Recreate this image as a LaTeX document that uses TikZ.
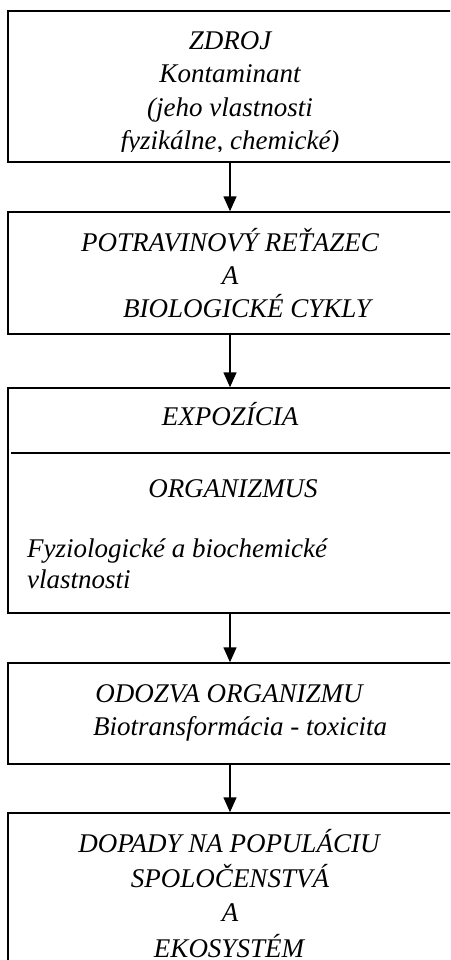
\documentclass[tikz,border=0pt]{standalone}
\usepackage{fontspec}
\setmainfont{Liberation Serif}
\usetikzlibrary{arrows.meta}

\begin{document}
\begin{tikzpicture}[x=1pt,y=-1pt]
        \tikzset{
            krabica/.style={
                draw,
                line width=1.4pt,
                minimum width=444pt,
                minimum height=#1,
                inner sep=0pt
            },
            txt/.style={
                anchor=base,
                inner sep=0pt,
                font=\fontsize{27}{32}\selectfont\itshape
            },
            sipka/.style={
                line width=1.4pt,
                -{Triangle[width=13pt,length=15pt]}
            }
        }
        \clip (0,0) rectangle (450,960);

        %krabice
        \node[krabica=151pt] (zdroj) at (230,86.5) {};
        \node[krabica=122pt] (retazec) at (230,273) {};
        \node[krabica=225pt] (expozicia) at (230,500.5) {};
        \node[krabica=101pt] (odozva) at (230,713.5) {};
        \node[krabica=182pt] (dopady) at (230,904) {};

        %deliaca ciara
        \draw[line width=1.4pt] (11,453) -- (452,453);

        %texty
        \begin{scope}
            \clip (8,11) rectangle (452,152);
            \node[txt] (t1) at (230,50) {ZDROJ};
            \node[txt] (t2) at (230,83) {Kontaminant};
            \node[txt] (t3) at (230,117) {(jeho vlastnosti};
            \node[txt] (t4) at (230,150) {fyzikálne, chemické)};
        \end{scope}

        \node[txt] (t5) at (230,251) {POTRAVINOVÝ REŤAZEC};
        \node[txt] (t6) at (230,284) {A};
        \node[txt] (t7) at (247,317) {BIOLOGICKÉ CYKLY};

        \node[txt] (t8) at (230,425) {EXPOZÍCIA};
        \node[txt] (t9) at (233,497) {ORGANIZMUS};
        \node[txt, anchor=base west] (t10) at (27,557) {Fyziologické a biochemické};
        \node[txt, anchor=base west] (t11) at (27,588) {vlastnosti};

        \node[txt] (t12) at (229,702) {ODOZVA ORGANIZMU};
        \node[txt] (t13) at (240,735) {Biotransformácia - toxicita};

        \node[txt] (t14) at (229,852) {DOPADY NA POPULÁCIU};
        \node[txt] (t15) at (230,887) {SPOLOČENSTVÁ};
        \node[txt] (t16) at (230,921) {A};
        \node[txt] (t17) at (229,957) {EKOSYSTÉM};

        %sipky
        \draw[sipka] (zdroj) -- (retazec);
        \draw[sipka] (retazec) -- (expozicia);
        \draw[sipka] (expozicia) -- (odozva);
        \draw[sipka] (odozva) -- (dopady);

    \end{tikzpicture}
\end{document}
